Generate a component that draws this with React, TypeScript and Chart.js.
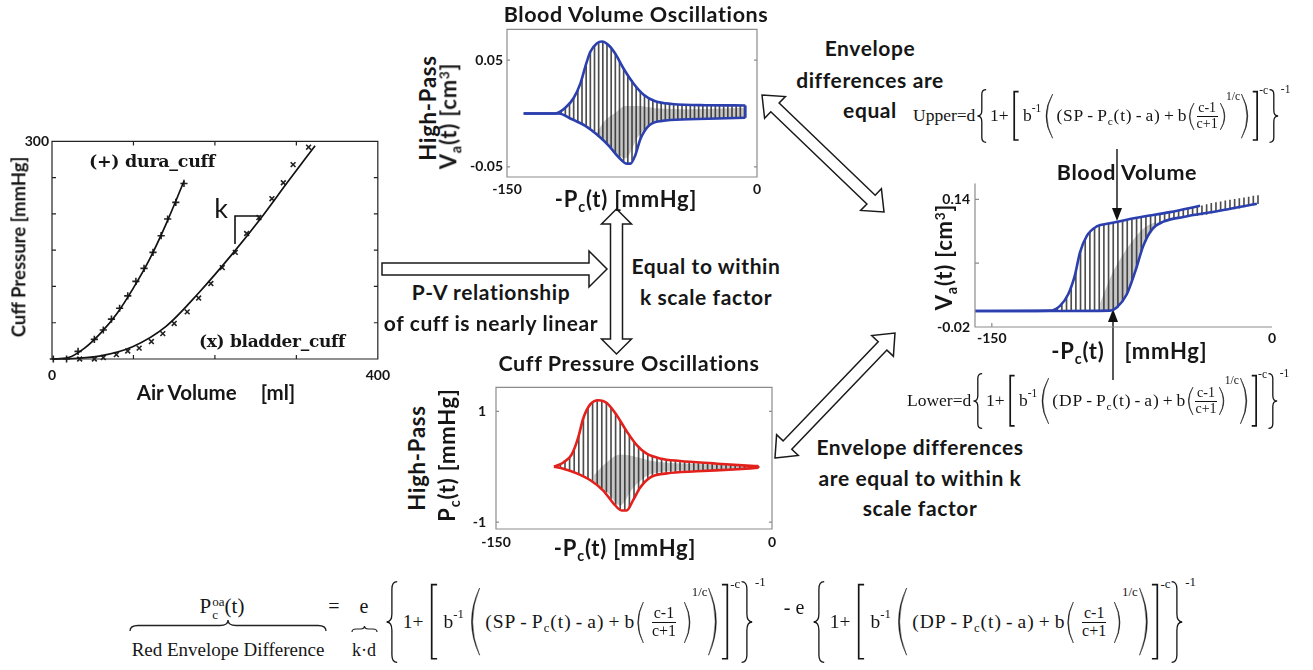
import React, { useEffect, useRef } from "react";
import { Chart, registerables } from "chart.js";
Chart.register(...registerables);

const SANS = "Lato, 'Open Sans', 'Noto Sans', sans-serif";
const SERIF = "'Liberation Serif', 'DejaVu Serif', serif";
const BLUE = "#2b3fae";
const RED = "#e3201b";
const BEAT = "#4d4d4d";

// ===================== DATA =====================
// --- P-V relationship of cuffs ---
const pvXTicks = [0, 100, 200, 300, 400];
const pvXLabels = ["0", "", "", "", "400"];
const pvYTicks = [0, 50, 100, 150, 200, 250, 300];
const pvYLabels = ["", "", "", "", "", "", "300"];
const pvDuraX = [1.6, 17.9, 32, 52, 63, 73, 83, 93, 103, 113, 124, 134, 142, 152, 162];
const pvDuraY = [0, 0, 10.5, 27, 40, 55, 70, 87, 107, 125, 147, 170, 193, 216, 242];
const pvBladderX = [34, 52, 63, 79, 93, 107, 122, 136, 150, 166, 180, 195, 209, 225, 239, 254, 270, 284, 296, 315];
const pvBladderY = [0, 0, 2, 6, 11, 15, 24, 35, 49, 65, 84, 104, 126, 147, 173, 195, 221, 243, 268, 292];
const pvDuraFitX = [0, 20, 40, 60, 80, 100, 120, 140, 162];
const pvDuraFitY = [0, 2, 15, 36, 63, 98, 138, 186, 245];
const pvBladderFitX = [0, 30, 58, 99, 140, 180, 223, 255, 290, 323];
const pvBladderFitY = [0, 1, 4, 17, 45, 91, 147, 192, 245, 294];

// --- Blood volume oscillations (high-pass) ---
const bvoXTicks = [-150, 0];
const bvoXLabels = ["-150", "0"];
const bvoYTicks = [-0.05, 0.05];
const bvoYLabels = ["-0.05", "0.05"];
const bvoUpX = [-140, -121, -115, -110, -106, -103, -100, -96, -93, -89, -85, -80, -74, -68, -61, -51, -31, -7];
const bvoUpY = [0, 0, 0.0054, 0.0146, 0.028, 0.044, 0.058, 0.066, 0.0676, 0.064, 0.056, 0.042, 0.028, 0.0177, 0.0115, 0.009, 0.0078, 0.0076];
const bvoLoX = [-140, -119, -111, -103, -95, -89, -83, -78, -76, -73, -70, -65, -57, -41, -7];
const bvoLoY = [0, 0, -0.0054, -0.0115, -0.021, -0.03, -0.041, -0.047, -0.047, -0.039, -0.024, -0.0115, -0.0069, -0.0054, -0.0039];
const bvoBeatX = [-120, -117.5, -115, -112.5, -110, -107.5, -105, -102.5, -100, -97.5, -95, -92.5, -90, -87.5, -85, -82.5, -80, -77.5, -75, -72.5, -70, -67.5, -65, -62.5, -60, -57.5, -55, -52.5, -50, -47.5, -45, -42.5, -40, -37.5, -35, -32.5, -30, -27.5, -25, -22.5, -20, -17.5, -15, -12.5, -10, -7.5];
const bvoBeatHi = [0.001, 0.003, 0.0054, 0.01, 0.0146, 0.023, 0.033, 0.046, 0.058, 0.063, 0.0665, 0.0675, 0.065, 0.061, 0.056, 0.049, 0.042, 0.036, 0.031, 0.025, 0.02, 0.017, 0.0145, 0.0125, 0.011, 0.01, 0.0095, 0.0092, 0.0089, 0.0087, 0.0085, 0.0083, 0.0082, 0.0081, 0.008, 0.0079, 0.0078, 0.0078, 0.0077, 0.0077, 0.0077, 0.0076, 0.0076, 0.0076, 0.0076, 0.0076];
const bvoBeatLo = [0, -0.001, -0.002, -0.004, -0.0055, -0.0075, -0.009, -0.012, -0.0135, -0.016, -0.021, -0.025, -0.029, -0.033, -0.037, -0.0415, -0.0445, -0.047, -0.044, -0.036, -0.024, -0.016, -0.0115, -0.0095, -0.0082, -0.007, -0.0066, -0.0062, -0.006, -0.0058, -0.0056, -0.0055, -0.0054, -0.0052, -0.005, -0.005, -0.0048, -0.0047, -0.0046, -0.0045, -0.0044, -0.0043, -0.0042, -0.0041, -0.004, -0.0039];
const bvoDarkX = [-96, -92, -85, -79, -71, -61, -41, -7];
const bvoDarkHi = [-0.018, -0.008, 0.0007, 0.007, 0.007, 0.005, 0.004, 0.0054];
const bvoDarkLo = [-0.022, -0.024, -0.036, -0.042, -0.021, -0.0085, -0.005, -0.0045];

// --- Cuff pressure oscillations (high-pass) ---
const cpoXTicks = [-150, 0];
const cpoXLabels = ["-150", "0"];
const cpoYTicks = [-1, 1];
const cpoYLabels = ["-1", "1"];
const cpoUpX = [-118.5, -113.4, -108.9, -105.3, -102.6, -98.9, -94.4, -89.8, -84.4, -79, -73.5, -68.1, -60.9, -50, -31.9, -13.7, -7.4];
const cpoUpY = [0, 0.076, 0.218, 0.53, 0.87, 1.12, 1.2, 1.15, 0.93, 0.64, 0.39, 0.235, 0.15, 0.104, 0.06, 0.02, 0.01];
const cpoLoX = [-118.5, -113.4, -106.1, -98.9, -91.7, -86.2, -81.7, -79, -75.4, -71.7, -66.3, -57.2, -40.9, -21, -7.4];
const cpoLoY = [0, -0.037, -0.12, -0.24, -0.43, -0.66, -0.79, -0.79, -0.6, -0.38, -0.196, -0.12, -0.083, -0.05, -0.02];
const cpoBeatX = [-117.5, -115, -112.5, -110, -107.5, -105, -102.5, -100, -97.5, -95, -92.5, -90, -87.5, -85, -82.5, -80, -77.5, -75, -72.5, -70, -67.5, -65, -62.5, -60, -57.5, -55, -52.5, -50, -47.5, -45, -42.5, -40, -37.5, -35, -32.5, -30, -27.5, -25, -22.5, -20, -17.5, -15, -12.5, -10, -7.5];
const cpoBeatHi = [0.015, 0.05, 0.1, 0.17, 0.3, 0.56, 0.87, 1.06, 1.16, 1.2, 1.19, 1.15, 1.07, 0.96, 0.83, 0.69, 0.57, 0.45, 0.36, 0.29, 0.225, 0.19, 0.165, 0.145, 0.13, 0.12, 0.11, 0.104, 0.098, 0.092, 0.087, 0.083, 0.078, 0.072, 0.065, 0.058, 0.052, 0.046, 0.04, 0.035, 0.03, 0.024, 0.018, 0.014, 0.01];
const cpoBeatLo = [-0.007, -0.025, -0.045, -0.07, -0.1, -0.125, -0.16, -0.21, -0.26, -0.31, -0.39, -0.46, -0.58, -0.69, -0.77, -0.79, -0.73, -0.58, -0.42, -0.29, -0.23, -0.175, -0.145, -0.13, -0.12, -0.11, -0.103, -0.098, -0.094, -0.09, -0.086, -0.082, -0.078, -0.074, -0.07, -0.066, -0.062, -0.058, -0.053, -0.049, -0.044, -0.039, -0.033, -0.027, -0.02];
const cpoDarkX = [-96.7, -89.8, -82.5, -75.4, -64.5, -40.9, -8.3];
const cpoDarkHi = [-0.15, 0.08, 0.22, 0.19, 0.1, 0.05, 0.012];
const cpoDarkLo = [-0.3, -0.45, -0.7, -0.38, -0.12, -0.066, -0.018];

// --- Blood volume ---
const bvXTicks = [-150, 0];
const bvXLabels = ["-150", "0"];
const bvYTicks = [-0.02, 0.06, 0.14];
const bvYLabels = ["-0.02", "", "0.14"];
const bvUpX = [-159, -118.9, -113.5, -109.1, -105.5, -102.8, -99.2, -93.9, -86.7, -72.4, -54.6, -38.5];
const bvUpY = [0, 0.0005, 0.0065, 0.021, 0.045, 0.0735, 0.094, 0.106, 0.11, 0.117, 0.124, 0.132];
const bvLoX = [-159, -118.9, -86.7, -83.1, -77.8, -73.3, -68.9, -64.4, -58.1, -47.4, -29.5, -8.1];
const bvLoY = [0, 0, 0.0005, 0.0044, 0.0207, 0.049, 0.0817, 0.102, 0.112, 0.118, 0.125, 0.1345];
const bvBeatX = [-117.5, -115, -112.5, -110, -107.5, -105, -102.5, -100, -97.5, -95, -92.5, -90, -87.5, -85, -82.5, -80, -77.5, -75, -72.5, -70, -67.5, -65, -62.5, -60, -57.5, -55, -52.5, -50, -47.5, -45, -42.5, -40, -37.5, -35, -32.5, -30, -27.5, -25, -22.5, -20, -17.5, -15, -12.5, -10, -7.5];
const bvBeatHi = [0.0015, 0.004, 0.008, 0.017, 0.03, 0.05, 0.075, 0.09, 0.099, 0.104, 0.107, 0.108, 0.1095, 0.111, 0.112, 0.1125, 0.113, 0.1145, 0.117, 0.118, 0.119, 0.12, 0.121, 0.122, 0.1235, 0.124, 0.125, 0.126, 0.127, 0.128, 0.129, 0.131, 0.132, 0.1335, 0.135, 0.136, 0.137, 0.138, 0.139, 0.14, 0.141, 0.142, 0.143, 0.144, 0.1448];
const bvBeatLo = [0, 0, 0, 0, 0, 0, 0, 0, 0, 0, 0, 0, 0.0003, 0.002, 0.005, 0.012, 0.022, 0.038, 0.055, 0.073, 0.088, 0.099, 0.106, 0.11, 0.112, 0.1135, 0.1148, 0.116, 0.118, 0.119, 0.1195, 0.12, 0.1205, 0.121, 0.123, 0.1245, 0.1255, 0.1265, 0.1275, 0.128, 0.129, 0.1305, 0.132, 0.133, 0.1347];
const bvDarkX = [-92, -86, -80, -74, -68, -62];
const bvDarkHi = [0.01, 0.045, 0.07, 0.09, 0.105, 0.112];
const bvDarkLo = [0, 0.001, 0.014, 0.045, 0.085, 0.105];

// ===================== HELPERS =====================
const pts = (xs: number[], ys: number[]) => xs.map((x, i) => ({ x, y: ys[i] }));
const beats = (xs: number[], lo: number[], hi: number[]) => xs.map((x, i) => ({ x, y: [lo[i], hi[i]] }));
const last = (a: number[]) => a[a.length - 1];

const framePlugin = {
  id: "frame",
  afterDraw(chart: any, _args: any, o: any) {
    const { ctx, chartArea: a, scales } = chart;
    ctx.save();
    ctx.strokeStyle = o.color;
    ctx.lineWidth = o.width;
    ctx.beginPath();
    if (o.box) {
      ctx.rect(a.left, a.top, a.right - a.left, a.bottom - a.top);
    } else {
      ctx.moveTo(a.left, a.top);
      ctx.lineTo(a.left, a.bottom);
      ctx.lineTo(a.right, a.bottom);
    }
    const L = o.len;
    (o.xTicks || []).forEach((v: number) => {
      const px = scales.x.getPixelForValue(v);
      ctx.moveTo(px, a.bottom);
      ctx.lineTo(px, a.bottom - L);
      if (o.box) {
        ctx.moveTo(px, a.top);
        ctx.lineTo(px, a.top + L);
      }
    });
    (o.yTicks || []).forEach((v: number) => {
      const py = scales.y.getPixelForValue(v);
      ctx.moveTo(a.left, py);
      ctx.lineTo(a.left + L, py);
      if (o.box) {
        ctx.moveTo(a.right, py);
        ctx.lineTo(a.right - L, py);
      }
    });
    ctx.stroke();
    ctx.restore();
  },
};

type AxisCfg = { min: number; max: number; ticks: number[]; labels: string[]; pad: number };
type PlotProps = {
  box: number[];
  yAxisW: number;
  xAxisH: number;
  padTop?: number;
  padRight?: number;
  x: AxisCfg;
  y: AxisCfg;
  datasets: any[];
  frame: any;
};

const tickFont = { family: SANS, size: 14, weight: "bold" as const };

function Plot(p: PlotProps) {
  const ref = useRef<HTMLCanvasElement>(null);
  const [bl, bt, bw, bh] = p.box;
  const pt = p.padTop ?? 10;
  const pr = p.padRight ?? 16;
  const cw = p.yAxisW + bw + pr;
  const ch = pt + bh + p.xAxisH;
  useEffect(() => {
    const axis = (c: AxisCfg, isX: boolean) => ({
      type: "linear",
      min: c.min,
      max: c.max,
      offset: false,
      afterBuildTicks: (s: any) => {
        s.ticks = c.ticks.map((v) => ({ value: v }));
      },
      afterFit: (s: any) => {
        if (isX) s.height = p.xAxisH;
        else s.width = p.yAxisW;
      },
      ticks: {
        autoSkip: false,
        maxRotation: 0,
        padding: c.pad,
        font: tickFont,
        color: "#151515",
        callback: (_v: any, i: number) => c.labels[i] ?? "",
      },
      grid: { display: false, drawTicks: false, offset: false },
      border: { display: false },
    });
    const chart = new Chart(ref.current as HTMLCanvasElement, {
      type: "line",
      data: { datasets: p.datasets },
      options: {
        animation: false,
        responsive: false,
        maintainAspectRatio: false,
        layout: { padding: { top: pt, right: pr, left: 0, bottom: 0 } },
        elements: { point: { radius: 0 } },
        plugins: {
          legend: { display: false },
          tooltip: { enabled: false },
          frame: p.frame,
        } as any,
        scales: { x: axis(p.x, true), y: axis(p.y, false) } as any,
      },
      plugins: [framePlugin as any],
    });
    return () => chart.destroy();
  }, []);
  return (
    <canvas
      ref={ref}
      width={cw}
      height={ch}
      style={{ position: "absolute", left: bl - p.yAxisW, top: bt - pt, width: cw, height: ch }}
    />
  );
}

const envLine = (xs: number[], ys: number[], color: string) => ({
  type: "line",
  data: pts(xs, ys),
  borderColor: color,
  borderWidth: 2.6,
  pointRadius: 0,
  cubicInterpolationMode: "monotone",
  fill: false,
  order: 0,
});
const capLine = (ux: number[], uy: number[], lx: number[], ly: number[], color: string) => ({
  type: "line",
  data: [
    { x: last(ux), y: last(uy) },
    { x: last(lx), y: last(ly) },
  ],
  borderColor: color,
  borderWidth: 2.6,
  pointRadius: 0,
  fill: false,
  order: 0,
});
const beatBars = (xs: number[], lo: number[], hi: number[]) => ({
  type: "bar",
  data: beats(xs, lo, hi),
  backgroundColor: BEAT,
  borderWidth: 0,
  barThickness: 1,
  order: 2,
});
const darkBand = (xs: number[], hi: number[], lo: number[]) => [
  {
    type: "line",
    data: pts(xs, hi),
    borderWidth: 0,
    borderColor: "rgba(0,0,0,0)",
    backgroundColor: "rgba(40,40,40,0.26)",
    pointRadius: 0,
    cubicInterpolationMode: "monotone",
    fill: "+1",
    order: 1,
  },
  {
    type: "line",
    data: pts(xs, lo),
    borderWidth: 0,
    borderColor: "rgba(0,0,0,0)",
    pointRadius: 0,
    cubicInterpolationMode: "monotone",
    fill: false,
    order: 1,
  },
];

// ===================== TEXT / FORMULA HELPERS =====================
function T({ x, y, size = 21, rot = false, weight = 700, family = SANS, ls = 0, children, style }: any) {
  return (
    <div
      style={{
        position: "absolute",
        left: x,
        top: y,
        transform: `translate(-50%,-50%)${rot ? " rotate(-90deg)" : ""}`,
        fontFamily: family,
        fontSize: size,
        fontWeight: weight,
        letterSpacing: ls,
        whiteSpace: "pre",
        lineHeight: 1.15,
        color: "#161616",
        ...style,
      }}
    >
      {children}
    </div>
  );
}
const Sub = ({ children }: any) => (
  <span style={{ fontSize: "0.65em", position: "relative", top: "0.32em" }}>{children}</span>
);
const Sup = ({ children }: any) => (
  <span style={{ fontSize: "0.62em", position: "relative", top: "-0.55em" }}>{children}</span>
);

function D({ k, w, h, sw = 1.3 }: any) {
  let d = "";
  let fill = "none";
  let strokeW = sw;
  const mir = (x: number) => (k === ")" || k === "]" || k === "}" ? w - x : x);
  if (k === "(" || k === ")") {
    d = `M${mir(0.95 * w)},0 Q${mir(-0.5 * w)},${h / 2} ${mir(0.95 * w)},${h} Q${mir(-0.3 * w)},${h / 2} ${mir(0.95 * w)},0 Z`;
    fill = "#151515";
    strokeW = 0.5;
  } else if (k === "[" || k === "]") {
    d = `M${mir(0.9 * w)},0.7 H${mir(0.3 * w)} V${h - 0.7} H${mir(0.9 * w)}`;
    strokeW = sw + 0.4;
  } else {
    d = `M${mir(0.95 * w)},0.6 Q${mir(0.5 * w)},0.6 ${mir(0.5 * w)},${0.1 * h} L${mir(0.5 * w)},${0.4 * h} Q${mir(0.5 * w)},${0.5 * h} ${mir(0.05 * w)},${0.5 * h} Q${mir(0.5 * w)},${0.5 * h} ${mir(0.5 * w)},${0.6 * h} L${mir(0.5 * w)},${0.9 * h} Q${mir(0.5 * w)},${h - 0.6} ${mir(0.95 * w)},${h - 0.6}`;
  }
  return (
    <svg width={w} height={h} style={{ flex: "none", overflow: "visible", display: "block" }}>
      <path d={d} fill={fill} stroke="#151515" strokeWidth={strokeW} />
    </svg>
  );
}

function Frac({ n, d, fs, pad }: any) {
  return (
    <span
      style={{
        display: "inline-flex",
        flexDirection: "column",
        alignItems: "center",
        fontSize: fs,
        lineHeight: 1.05,
        padding: `0 ${pad}px`,
        flex: "none",
      }}
    >
      <span>{n}</span>
      <span style={{ borderTop: "1px solid #111", alignSelf: "stretch" }} />
      <span>{d}</span>
    </span>
  );
}

function EnvGroup({ left, cy, fs, H, v, prefix, g, op, ls, dw, fracFs, fracPad }: any) {
  const s = fs * 0.66;
  const sup = (t: string, dy: number) => (
    <span style={{ fontSize: s, position: "relative", top: dy, flex: "none" }}>{t}</span>
  );
  const gap = (m: number) => <span style={{ width: m, flex: "none" }} />;
  const O = ({ c }: any) => <span style={{ margin: `0 ${op}px` }}>{c}</span>;
  return (
    <div
      style={{
        position: "absolute",
        left,
        top: cy - H / 2,
        height: H,
        display: "flex",
        alignItems: "center",
        fontFamily: SERIF,
        fontSize: fs,
        color: "#151515",
        whiteSpace: "pre",
        lineHeight: 1,
      }}
    >
      {prefix ? (
        <>
          <span>{prefix}</span>
          {gap(2)}
        </>
      ) : null}
      <D k="{" w={fs * 0.55 * dw} h={H} />
      {gap(g)}
      <span>1+</span>
      {gap(g)}
      <D k="[" w={fs * 0.42 * dw} h={H * 0.92} />
      {gap(g + 1)}
      <span>b</span>
      {sup("-1", -fs * 0.4)}
      {gap(g)}
      <D k="(" w={fs * 0.52 * dw} h={H * 0.82} />
      {gap(g)}
      <span style={{ letterSpacing: ls }}>
        ({v}
        <O c="-" />P<Sub>c</Sub>(t)
        <O c="-" />a)
        <O c="+" />b
      </span>
      {gap(1)}
      <D k="(" w={fs * 0.36 * dw} h={H * 0.5} sw={1} />
      <Frac n="c-1" d="c+1" fs={fracFs} pad={fracPad} />
      <D k=")" w={fs * 0.36 * dw} h={H * 0.5} sw={1} />
      {sup("1/c", -H * 0.36)}
      {gap(1)}
      <D k=")" w={fs * 0.5 * dw} h={H * 0.82} />
      {gap(2)}
      <D k="]" w={fs * 0.42 * dw} h={H * 0.92} />
      {sup("-c", -H * 0.46)}
      {gap(1)}
      <D k="}" w={fs * 0.55 * dw} h={H} />
      {gap(2)}
      {sup("-1", -H * 0.48)}
    </div>
  );
}

function arrowPoly(x1: number, y1: number, x2: number, y2: number, sw: number, hw: number, hl: number, dbl: boolean) {
  const dx = x2 - x1;
  const dy = y2 - y1;
  const L = Math.hypot(dx, dy);
  const ux = dx / L;
  const uy = dy / L;
  const nx = -uy;
  const ny = ux;
  const P = (t: number, s: number) => `${(x1 + ux * t + nx * s).toFixed(1)},${(y1 + uy * t + ny * s).toFixed(1)}`;
  const a: string[] = [];
  if (dbl) a.push(P(0, 0), P(hl, hw), P(hl, sw));
  else a.push(P(0, sw));
  a.push(P(L - hl, sw), P(L - hl, hw), P(L, 0), P(L - hl, -hw), P(L - hl, -sw));
  if (dbl) a.push(P(hl, -sw), P(hl, -hw));
  else a.push(P(0, -sw));
  return a.join(" ");
}

function brace(x0: number, x1: number, y: number, h: number) {
  const m = (x0 + x1) / 2;
  const r = Math.min(8, (x1 - x0) / 6);
  return `M${x0},${y + h} Q${x0},${y + h / 2} ${x0 + r},${y + h / 2} L${m - r},${y + h / 2} Q${m},${y + h / 2} ${m},${y} Q${m},${y + h / 2} ${m + r},${y + h / 2} L${x1 - r},${y + h / 2} Q${x1},${y + h / 2} ${x1},${y + h}`;
}

// ===================== APP =====================
export default function App() {
  const pvDatasets = [
    { type: "line", data: pts(pvDuraFitX, pvDuraFitY), borderColor: "#111", borderWidth: 1.7, pointRadius: 0, cubicInterpolationMode: "monotone", clip: false },
    { type: "line", data: pts(pvBladderFitX, pvBladderFitY), borderColor: "#111", borderWidth: 1.7, pointRadius: 0, cubicInterpolationMode: "monotone", clip: false },
    { type: "line", data: pts(pvDuraX, pvDuraY), showLine: false, pointStyle: "cross", pointRadius: 3.6, borderColor: "#222", borderWidth: 1.6, clip: false },
    { type: "line", data: pts(pvBladderX, pvBladderY), showLine: false, pointStyle: "crossRot", pointRadius: 3.4, borderColor: "#222", borderWidth: 1.6, clip: false },
  ];
  const bvoDatasets = [
    envLine(bvoUpX, bvoUpY, BLUE),
    envLine(bvoLoX, bvoLoY, BLUE),
    capLine(bvoUpX, bvoUpY, bvoLoX, bvoLoY, BLUE),
    ...darkBand(bvoDarkX, bvoDarkHi, bvoDarkLo),
    beatBars(bvoBeatX, bvoBeatLo, bvoBeatHi),
  ];
  const cpoDatasets = [
    envLine(cpoUpX, cpoUpY, RED),
    envLine(cpoLoX, cpoLoY, RED),
    capLine(cpoUpX, cpoUpY, cpoLoX, cpoLoY, RED),
    ...darkBand(cpoDarkX, cpoDarkHi, cpoDarkLo),
    beatBars(cpoBeatX, cpoBeatLo, cpoBeatHi),
  ];
  const bvDatasets = [
    envLine(bvUpX, bvUpY, BLUE),
    envLine(bvLoX, bvLoY, BLUE),
    ...darkBand(bvDarkX, bvDarkHi, bvDarkLo),
    beatBars(bvBeatX, bvBeatLo, bvBeatHi),
  ];

  const upperCfg = { fs: 17.5, g: 3, op: 3.2, ls: 0.8, dw: 1, fracFs: 14, fracPad: 2 };
  const bottomCfg = { fs: 19.5, g: 5, op: 4, ls: 1, dw: 1.1, fracFs: 16, fracPad: 8 };

  return (
    <div style={{ position: "absolute", left: 0, top: 0, width: 1313, height: 670, background: "#fff", overflow: "hidden" }}>
      {/* arrows & decorations */}
      <svg width={1313} height={670} style={{ position: "absolute", left: 0, top: 0 }}>
        <g fill="#fff" stroke="#1a1a1a" strokeWidth={1.5} strokeLinejoin="miter">
          <polygon points={arrowPoly(382, 269, 607, 269, 6, 18, 18, false)} />
          <polygon points={arrowPoly(616.5, 209, 616.5, 354, 6, 15, 15, true)} />
          <polygon points={arrowPoly(762, 95, 884, 212, 6, 15, 18, true)} />
          <polygon points={arrowPoly(775, 458, 895, 333, 6, 15, 18, true)} />
        </g>
        {/* k slope marker */}
        <polyline points="235,244 235,216 259,216 259,221" fill="none" stroke="#111" strokeWidth={1.6} />
        {/* blood volume arrows */}
        <line x1={1117} y1={149} x2={1117} y2={212} stroke="#111" strokeWidth={1.4} />
        <polygon points="1112,208 1122,208 1117,221" fill="#111" />
        <line x1={1113} y1={380} x2={1113} y2={318} stroke="#111" strokeWidth={1.4} />
        <polygon points="1108,322 1118,322 1113,309" fill="#111" />
        {/* braces in bottom formula */}
        <path d={brace(130, 326, 620, 11)} fill="none" stroke="#222" strokeWidth={1.3} />
        <path d={brace(352, 377, 626, 6)} fill="none" stroke="#222" strokeWidth={1.2} />
      </svg>

      {/* P-V chart */}
      <Plot
        box={[52, 140, 328, 219]}
        yAxisW={46}
        xAxisH={26}
        padRight={18}
        x={{ min: 0, max: 400, ticks: pvXTicks, labels: pvXLabels, pad: 8 }}
        y={{ min: 0, max: 300, ticks: pvYTicks, labels: pvYLabels, pad: 3 }}
        datasets={pvDatasets}
        frame={{ color: "#222", width: 1.2, box: true, len: 4, xTicks: pvXTicks.slice(1, -1), yTicks: pvYTicks.slice(1, -1) }}
      />
      <T x={19} y={247} rot size={18.5}>Cuff Pressure [mmHg]</T>
      <T x={216} y={393} size={20.5}>
        Air Volume<span style={{ marginLeft: 24 }}>[ml]</span>
      </T>
      <T x={152} y={161} size={17.5} family="'DejaVu Serif', serif" ls={-0.3}>(+) dura_cuff</T>
      <T x={272} y={342} size={17} family="'DejaVu Serif', serif" ls={-0.3}>(x) bladder_cuff</T>
      <T x={221} y={208} size={27} weight={400}>k</T>

      {/* Blood volume oscillations */}
      <Plot
        box={[507, 27, 250, 150]}
        yAxisW={62}
        xAxisH={24}
        x={{ min: -150, max: 0, ticks: bvoXTicks, labels: bvoXLabels, pad: 4 }}
        y={{ min: -0.0595, max: 0.0789, ticks: bvoYTicks, labels: bvoYLabels, pad: 4 }}
        datasets={bvoDatasets}
        frame={{ color: "#8c8c8c", width: 1.2, box: true, len: 3, xTicks: [], yTicks: bvoYTicks }}
      />
      <T x={636} y={14} size={21.5} ls={0.6}>Blood Volume Oscillations</T>
      <T x={428} y={108} rot size={22} ls={0.8}>High-Pass</T>
      <T x={448} y={116} rot size={22} ls={0.8}>
        V<Sub>a</Sub>(t) [cm<Sup>3</Sup>]
      </T>
      <T x={626} y={199} size={22} ls={0.8}>
        -P<Sub>c</Sub>(t) [mmHg]
      </T>

      {/* Cuff pressure oscillations */}
      <Plot
        box={[496, 379, 276, 150]}
        yAxisW={62}
        xAxisH={24}
        x={{ min: -150, max: 0, ticks: cpoXTicks, labels: cpoXLabels, pad: 5 }}
        y={{ min: -1.124, max: 1.431, ticks: cpoYTicks, labels: cpoYLabels, pad: 10 }}
        datasets={cpoDatasets}
        frame={{ color: "#8c8c8c", width: 1.2, box: true, len: 3, xTicks: [], yTicks: cpoYTicks }}
      />
      <T x={629} y={363} size={21.5} ls={0.6}>Cuff Pressure Oscillations</T>
      <T x={417} y={458} rot size={22} ls={0.8}>High-Pass</T>
      <T x={447} y={455} rot size={22} ls={0.8}>
        P<Sub>c</Sub>(t) [mmHg]
      </T>
      <T x={625} y={548} size={22} ls={0.8}>
        -P<Sub>c</Sub>(t) [mmHg]
      </T>

      {/* Blood volume */}
      <Plot
        box={[975, 180, 297, 147]}
        yAxisW={60}
        xAxisH={24}
        x={{ min: -159, max: 0, ticks: bvXTicks, labels: bvXLabels, pad: 3 }}
        y={{ min: -0.02, max: 0.16, ticks: bvYTicks, labels: bvYLabels, pad: 5 }}
        datasets={bvDatasets}
        frame={{ color: "#8c8c8c", width: 1.2, box: false, len: 4, xTicks: [-150], yTicks: [0.06, 0.14] }}
      />
      <T x={1127} y={172} size={21.5} ls={0.6}>Blood Volume</T>
      <T x={944} y={257} rot size={22} ls={0.8}>
        V<Sub>a</Sub>(t) [cm<Sup>3</Sup>]
      </T>
      <T x={1078} y={351} size={22} ls={0.8}>
        -P<Sub>c</Sub>(t)
      </T>
      <T x={1166} y={351} size={22} ls={0.8}>[mmHg]</T>

      {/* annotations */}
      <T x={491} y={292} ls={0.6}>P-V relationship</T>
      <T x={491} y={323} ls={0.6}>of cuff is nearly linear</T>
      <T x={706} y={266} ls={0.6}>Equal to within</T>
      <T x={706} y={297} ls={0.6}>k scale factor</T>
      <T x={870} y={48} ls={0.6}>Envelope</T>
      <T x={870} y={80} ls={0.6}>differences are</T>
      <T x={870} y={110} ls={0.6}>equal</T>
      <T x={920} y={447} ls={0.6}>Envelope differences</T>
      <T x={920} y={478} ls={0.6}>are equal to within k</T>
      <T x={920} y={508} ls={0.6}>scale factor</T>

      {/* formulas */}
      <EnvGroup left={913} cy={116} H={54} v="SP" prefix="Upper=d" {...upperCfg} />
      <EnvGroup left={907} cy={401} H={56} v="DP" prefix="Lower=d" {...upperCfg} />

      <T x={222} y={608} size={21} weight={400} family={SERIF}>
        P
        <span style={{ display: "inline-flex", flexDirection: "column", fontSize: "0.62em", lineHeight: 1, verticalAlign: "middle", marginLeft: 1 }}>
          <span>oa</span>
          <span>c</span>
        </span>
        (t)
      </T>
      <T x={228} y={650} size={19} weight={400} family={SERIF}>Red Envelope Difference</T>
      <T x={334} y={606} size={20} weight={400} family={SERIF}>=</T>
      <T x={364} y={606} size={20} weight={400} family={SERIF}>e</T>
      <T x={364} y={650} size={18} weight={400} family={SERIF}>k·d</T>
      <EnvGroup left={386} cy={622} H={82} v="SP" prefix="" {...bottomCfg} />
      <T x={794} y={607} size={20} weight={400} family={SERIF}>- e</T>
      <EnvGroup left={813} cy={622} H={82} v="DP" prefix="" {...bottomCfg} />
    </div>
  );
}
